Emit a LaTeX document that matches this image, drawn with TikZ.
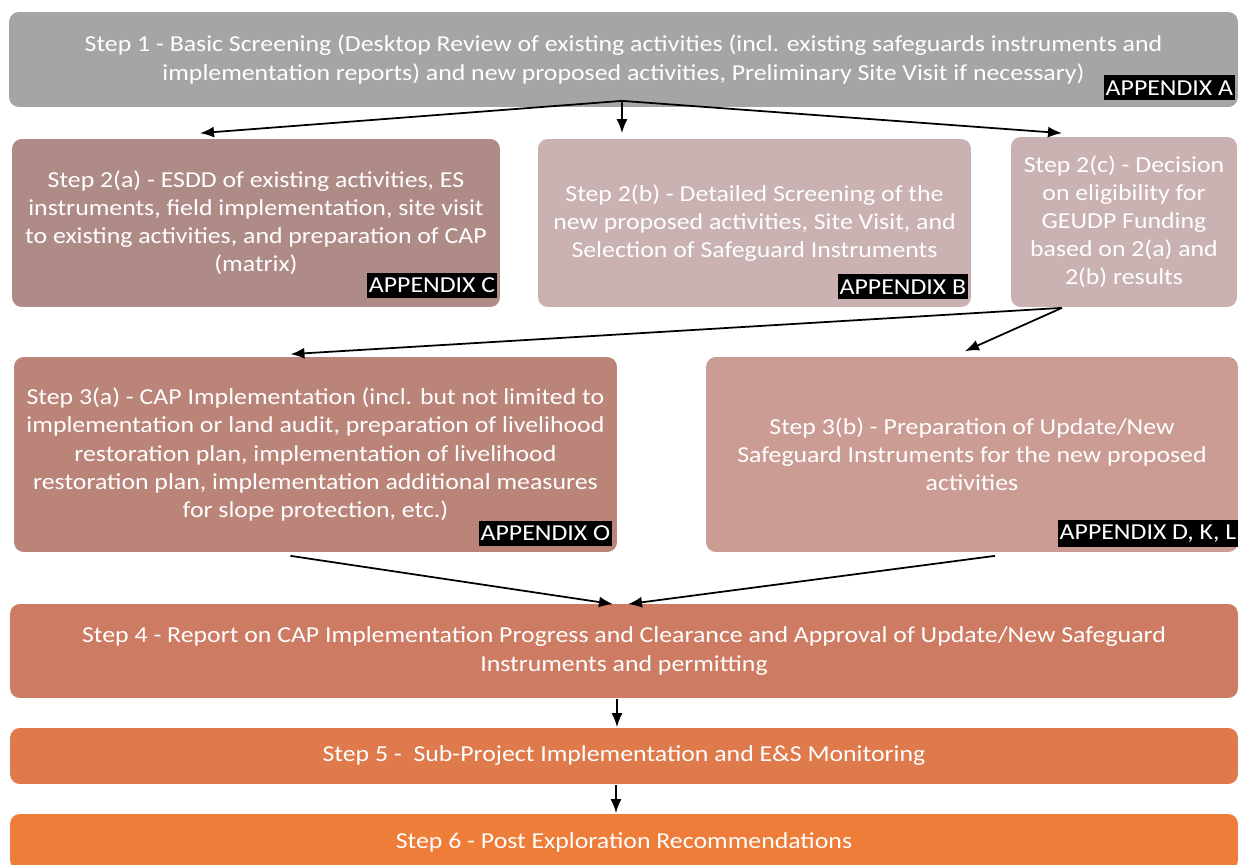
\documentclass[tikz,border=0pt]{standalone}
\usepackage{fontspec}
\setmainfont{Carlito}[FakeStretch=1.13]
\usetikzlibrary{arrows.meta,calc}
\definecolor{stepgrey}{HTML}{A5A5A5}
\definecolor{steptwoa}{HTML}{AF8B88}
\definecolor{steptwob}{HTML}{C9B2B1}
\definecolor{stepthreea}{HTML}{BB8479}
\definecolor{stepthreeb}{HTML}{CB9C94}
\definecolor{stepfour}{HTML}{CD7B62}
\definecolor{stepfive}{HTML}{DE7A4C}
\definecolor{stepsix}{HTML}{EE7D39}

\begin{document}
\begin{tikzpicture}[x=0.02cm,y=-0.02cm,line width=1pt,>={Latex[length=2.8mm,width=2.2mm]},
  stepbox/.style={rounded corners=5.5pt,text=white,align=center,inner sep=0pt,font=\fontsize{13}{16}\selectfont},
  appx/.style={fill=black,text=white,inner xsep=1pt,inner ysep=2.8pt,anchor=south east,font=\fontsize{13}{15}\selectfont}]
  \useasboundingbox[fill=white] (0,0) rectangle (1238,865);
  % step 1
  \node[stepbox,fill=stepgrey,minimum width=24.58cm,minimum height=1.9cm] (s1) at (623.5,59.5)
    {Step 1 - Basic Screening (Desktop Review of existing activities (incl. existing safeguards instruments and\\
     implementation reports) and new proposed activities, Preliminary Site Visit if necessary)};
  \node[appx] at ($(s1.south east)+(-3,-7)$) {APPENDIX A};
  % step 2 (a), (b), (c)
  \node[stepbox,fill=steptwoa,minimum width=9.76cm,minimum height=3.36cm] (s2a) at (256,223)
    {Step 2(a) - ESDD of existing activities, ES\\ instruments, field implementation, site visit\\
     to existing activities, and preparation of CAP\\ (matrix)};
  \node[appx] at ($(s2a.south east)+(-3,-9)$) {APPENDIX C};
  \node[stepbox,fill=steptwob,minimum width=8.66cm,minimum height=3.36cm] (s2b) at (754.5,223)
    {Step 2(b) - Detailed Screening of the\\ new proposed activities, Site Visit, and\\ Selection of Safeguard Instruments};
  \node[appx] at ($(s2b.south east)+(-3,-8)$) {APPENDIX B};
  \node[stepbox,fill=steptwob,minimum width=4.52cm,minimum height=3.4cm] (s2c) at (1124,222)
    {Step 2(c) - Decision\\ on eligibility for\\ GEUDP Funding\\ based on 2(a) and\\ 2(b) results};
  % step 3 (a), (b)
  \node[stepbox,fill=stepthreea,minimum width=12.06cm,minimum height=3.9cm] (s3a) at (315.5,454.5)
    {Step 3(a) - CAP Implementation (incl. but not limited to\\ implementation or land audit, preparation of livelihood\\
     restoration plan, implementation of livelihood\\ restoration plan, implementation additional measures\\
     for slope protection, etc.)};
  \node[appx] at ($(s3a.south east)+(-5,-6)$) {APPENDIX O};
  \node[stepbox,fill=stepthreeb,minimum width=10.64cm,minimum height=3.9cm] (s3b) at (972,454.5)
    {Step 3(b) - Preparation of Update/New\\ Safeguard Instruments for the new proposed\\ activities};
  \node[appx] at ($(s3b.south east)+(0,-5)$) {APPENDIX D, K, L};
  % steps 4 - 6
  \node[stepbox,fill=stepfour,minimum width=24.56cm,minimum height=1.88cm] (s4) at (624,651)
    {Step 4 - Report on CAP Implementation Progress and Clearance and Approval of Update/New Safeguard\\
     Instruments and permitting};
  \node[stepbox,fill=stepfive,minimum width=24.56cm,minimum height=1.12cm] (s5) at (624,756)
    {Step 5 -\ \ Sub-Project Implementation and E\&S Monitoring};
  \node[stepbox,fill=stepsix,minimum width=24.56cm,minimum height=1.12cm] (s6) at (624,842)
    {Step 6 - Post Exploration Recommendations};
  % arrows
  \coordinate (s1b) at ($(s1.south)+(-1.5,-7)$);
  \draw[->] (s1b)--($(s2a.north)+(-56,-5)$);
  \draw[->] (s1b)--($(s1b |- s2b.north)+(0,-5)$);
  \draw[->] (s1b)--($(s2c.north)+(-62,-3)$);
  \coordinate (s2cb) at ($(s2c.south)+(-62,0)$);
  \draw[->] (s2cb)--($(s3a.north)+(-25,-2)$);
  \draw[->] (s2cb)--($(s3b.north)+(-7,-5)$);
  \draw[->] ($(s3a.south)+(-25,3)$)--($(s4.north)+(-11,1)$);
  \draw[->] ($(s3b.south)+(23,3)$)--($(s4.north)+(4,1)$);
  \draw[->] ($(s4.south)+(-7,0)$)--($(s5.north)+(-7,0)$);
  \draw[->] ($(s5.south)+(-8,0)$)--($(s6.north)+(-8,0)$);
\end{tikzpicture}
\end{document}
